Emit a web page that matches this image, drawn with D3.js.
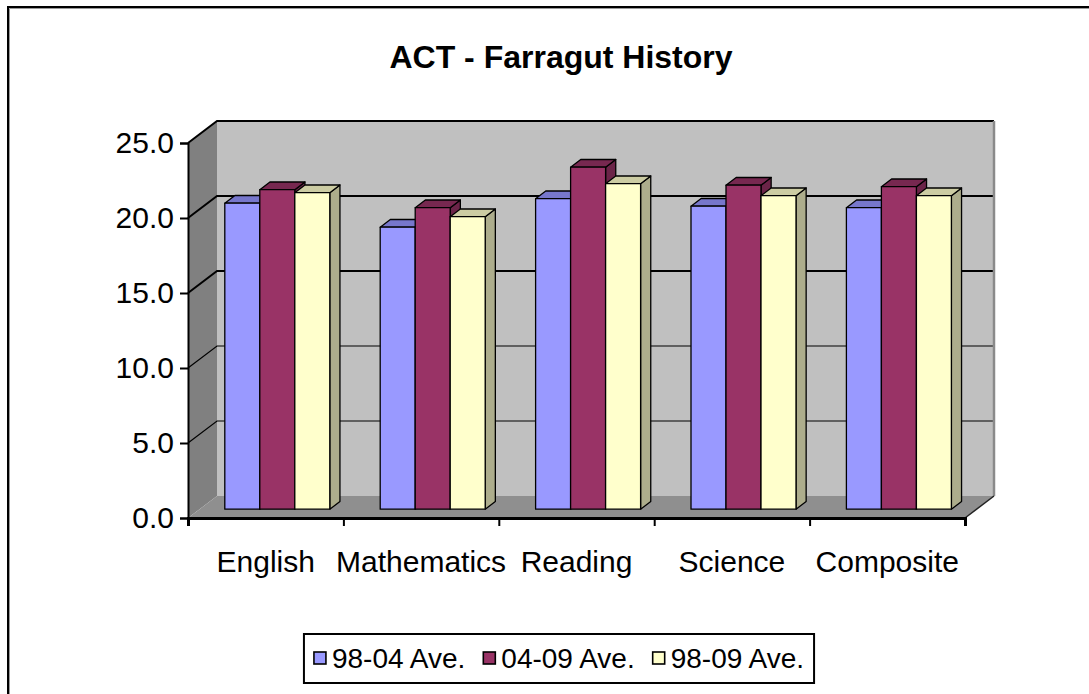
<!DOCTYPE html>
<html>
<head>
<meta charset="utf-8">
<script src="https://cdn.jsdelivr.net/npm/d3@7"></script>
<style>
  body { margin: 0; background: #fff; }
  svg { display: block; }
  text { font-family: "Liberation Sans", Arial, sans-serif; }
</style>
</head>
<body>
<svg id="graph" width="1089" height="694"></svg>
<script>
// Chart data
var categories = ["English", "Mathematics", "Reading", "Science", "Composite"];
var seriesNames = ["98-04 Ave.", "04-09 Ave.", "98-09 Ave."];
var avg9804 = [20.4, 18.8, 20.7, 20.2, 20.1];
var avg0409 = [21.3, 20.1, 22.8, 21.6, 21.5];
var avg9809 = [21.1, 19.5, 21.7, 20.9, 20.9];
var yTicks = [0, 5, 10, 15, 20, 25];
var title = "ACT - Farragut History";

var seriesValues = [avg9804, avg0409, avg9809];

// Face colours for each series: front, top, side
var frontColors = ["#9999ff", "#993366", "#ffffcc"];
var topColors = ["#7777cc", "#772850", "#cccca3"];
var sideColors = ["#6b6bb3", "#6b2448", "#adad8c"];

var svg = d3.select("#graph"),
    width = +svg.attr("width"),
    height = +svg.attr("height");

var axisFont = 30;

// Front plane of the plot, and depth offset of the 3D box
var x0 = 188, x1 = 965, yBase = 518, yTop = 143;
var depth = {x: 29, y: -22};
var barFront = 0.4, barBack = 0.75;

var yScale = d3.scaleLinear().domain([0, 25]).range([yBase, yTop]);
var xBand = d3.scaleBand().domain(categories).range([x0, x1]).padding(0);
var xSeries = d3.scaleBand().domain(seriesNames).range([0, xBand.bandwidth()])
    .paddingInner(0).paddingOuter(0.72);

// Project (x, value, depth fraction) to screen
function pt(x, v, f) {
    return [x + depth.x * f, yScale(v) + depth.y * f];
}
function poly(pts) { return "M" + pts.map(p => p.join(",")).join("L") + "Z"; }

// Outer frame
svg.append("path").attr("d", "M8,700V7H1100")
    .attr("fill", "none").attr("stroke", "#000").attr("stroke-width", 2);
svg.append("path").attr("d", "M9.5,700V8.5H1100")
    .attr("fill", "none").attr("stroke", "#9a9a9a").attr("stroke-width", 1);

// Title
svg.append("text").attr("x", 561).attr("y", 68)
    .attr("text-anchor", "middle").attr("font-weight", "bold")
    .attr("font-size", 32).text(title);

// Walls and floor
svg.append("path")
    .attr("d", poly([pt(x0, 0, 1), pt(x1, 0, 1), pt(x1, 25, 1), pt(x0, 25, 1)]))
    .attr("fill", "#c0c0c0");
svg.append("path")
    .attr("d", poly([pt(x0, 0, 0), pt(x0, 0, 1), pt(x0, 25, 1), pt(x0, 25, 0)]))
    .attr("fill", "#808080");
svg.append("path")
    .attr("d", poly([pt(x0, 0, 0), pt(x1, 0, 0), pt(x1, 0, 1), pt(x0, 0, 1)]))
    .attr("fill", "#8f8f8f");

// Gridlines across the left wall and back wall
svg.append("g").selectAll("path")
    .data(yTicks.filter(v => v > 0))
    .join("path")
    .attr("fill", "none")
    .attr("stroke", "#000")
    .attr("stroke-width", v => v >= 15 ? 2 : 1.2)
    .attr("d", v => "M" + [pt(x0, v, 0), pt(x0, v, 1), pt(x1, v, 1)].map(p => p.join(",")).join("L"));

// Right edge of back wall and floor
svg.append("path").attr("d", "M" + pt(x1, 25, 1).join(",") + "L" + pt(x1, 0, 1).join(","))
    .attr("stroke", "#8a8a8a").attr("stroke-width", 2.5);
svg.append("path").attr("d", "M" + pt(x1, 0, 1).join(",") + "L" + pt(x1, 0, 0).join(","))
    .attr("stroke", "#222").attr("stroke-width", 1.5);

// Bars
var bars = [];
categories.forEach(function(c, i) {
    seriesNames.forEach(function(s, j) {
        bars.push({cat: c, series: j, value: seriesValues[j][i],
                   xl: xBand(c) + xSeries(s), xr: xBand(c) + xSeries(s) + xSeries.bandwidth()});
    });
});

var bg = svg.append("g").selectAll("g").data(bars).join("g");
bg.append("path")  // side face
    .attr("d", d => poly([pt(d.xr, 0, barFront), pt(d.xr, 0, barBack), pt(d.xr, d.value, barBack), pt(d.xr, d.value, barFront)]))
    .attr("fill", d => sideColors[d.series]).attr("stroke", "#000").attr("stroke-width", 1.3)
    .attr("stroke-linejoin", "round");
bg.append("path")  // top face
    .attr("d", d => poly([pt(d.xl, d.value, barFront), pt(d.xr, d.value, barFront), pt(d.xr, d.value, barBack), pt(d.xl, d.value, barBack)]))
    .attr("fill", d => topColors[d.series]).attr("stroke", "#000").attr("stroke-width", 1.3)
    .attr("stroke-linejoin", "round");
bg.append("path")  // front face
    .attr("d", d => poly([pt(d.xl, 0, barFront), pt(d.xr, 0, barFront), pt(d.xr, d.value, barFront), pt(d.xl, d.value, barFront)]))
    .attr("fill", d => frontColors[d.series]).attr("stroke", "#000").attr("stroke-width", 1.3)
    .attr("stroke-linejoin", "round");

// Y axis
var yAxis = d3.axisLeft(yScale).tickValues(yTicks).tickFormat(d3.format(".1f"))
    .tickSize(8).tickPadding(6);
var gy = svg.append("g").attr("transform", "translate(" + x0 + ",0)").call(yAxis);
gy.select(".domain").attr("stroke-width", 2);
gy.selectAll(".tick line").attr("stroke-width", 2);
gy.selectAll("text").attr("font-size", axisFont).attr("font-family", "Liberation Sans, Arial, sans-serif");

// X axis: line and boundary ticks
var xLin = d3.scaleLinear().domain([0, categories.length]).range([x0, x1]);
var gx = svg.append("g").attr("transform", "translate(0," + yBase + ")")
    .call(d3.axisBottom(xLin).tickValues(d3.range(categories.length + 1)).tickFormat("").tickSize(8).tickSizeOuter(8));
gx.select(".domain").attr("stroke-width", 3);
gx.selectAll(".tick line").attr("stroke-width", 2);

// X axis: category labels
var gl = svg.append("g").attr("transform", "translate(0," + yBase + ")")
    .call(d3.axisBottom(xBand).tickSize(0).tickPadding(33));
gl.select(".domain").remove();
gl.selectAll("text").attr("font-size", axisFont).attr("font-family", "Liberation Sans, Arial, sans-serif");

// Legend
var lg = svg.append("g");
var lbox = lg.append("rect").attr("fill", "#fff").attr("stroke", "#000").attr("stroke-width", 2);
var items = lg.selectAll("g").data(seriesNames).join("g");
items.append("rect").attr("width", 12).attr("height", 12).attr("y", -6)
    .attr("fill", (d, i) => frontColors[i]).attr("stroke", "#000").attr("stroke-width", 1.6);
items.append("text").attr("x", 18).attr("y", 10).attr("font-size", 28).text(d => d);
var xpos = 0;
items.each(function() {
    var w = this.getBBox().width;
    d3.select(this).attr("transform", "translate(" + xpos + ",0)");
    xpos += w + 18;
});
var lw = xpos - 18;
var lcx = 559, lcy = 658;
lg.attr("transform", "translate(" + (lcx - lw / 2) + "," + lcy + ")");
lbox.attr("x", -10).attr("y", -24).attr("width", lw + 20).attr("height", 49);
</script>
</body>
</html>
